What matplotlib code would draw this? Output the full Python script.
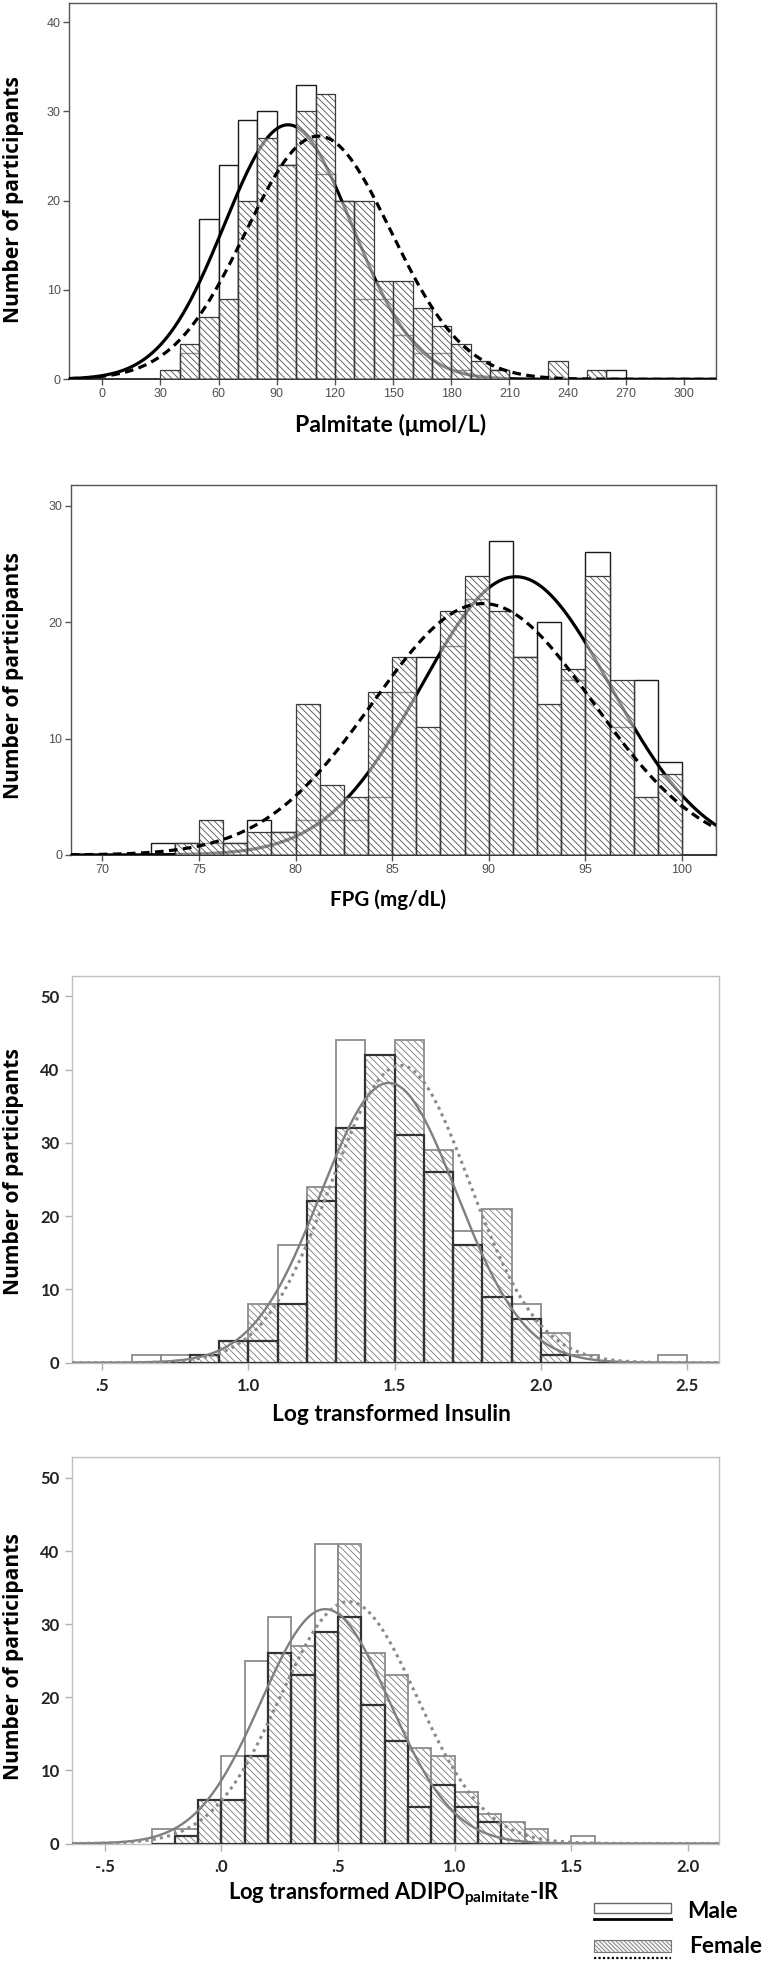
import matplotlib
matplotlib.use('Agg')
import matplotlib.pyplot as plt
import numpy as np
from matplotlib import rc
from matplotlib.patches import Rectangle
from matplotlib.lines import Line2D

rc('mathtext', default='regular')
plt.rcParams['hatch.linewidth'] = 0.6

W, H = 764, 1962

# Palmitate (umol/L), bins of 10 starting at 30
palm_start, palm_bw = 30, 10
palm_male = [0, 3, 18, 24, 29, 30, 24, 33, 23, 20, 9, 9, 5, 3, 3, 1, 0, 1, 0, 0, 0, 0, 0, 1]
palm_female = [1, 4, 7, 9, 20, 27, 24, 30, 32, 20, 20, 11, 11, 8, 6, 4, 2, 1, 0, 0, 2, 0, 1, 0]
palm_fit_male = [95.8, 32.9, 235]      # mean, sd, n
palm_fit_female = [111.5, 37.5, 256]
palm_ticks = [0, 30, 60, 90, 120, 150, 180, 210, 240, 270, 300]

# FPG (mg/dL), bins of 1.25 starting at 72.5
fpg_start, fpg_bw = 72.5, 1.25
fpg_male = [1, 1, 1, 1, 3, 2, 3, 3, 3, 5, 14, 17, 18, 22, 27, 17, 20, 15, 26, 11, 15, 8]
fpg_female = [0, 1, 3, 1, 2, 2, 13, 6, 5, 14, 17, 11, 21, 24, 21, 17, 13, 16, 24, 15, 5, 7]
fpg_fit_male = [91.4, 4.9, 235]
fpg_fit_female = [89.7, 5.7, 247]
fpg_ticks = [70, 75, 80, 85, 90, 95, 100]

# log insulin, bins of 0.1 starting at 0.6
ins_start, ins_bw = 0.6, 0.1
ins_male = [1, 1, 1, 3, 3, 16, 22, 44, 42, 31, 26, 18, 9, 8, 1, 1, 0, 0, 1]
ins_female = [0, 0, 1, 3, 8, 8, 24, 32, 42, 44, 29, 16, 21, 6, 4, 0, 0, 0, 0]
ins_fit_male = [1.48, 0.232, 222]
ins_fit_female = [1.52, 0.236, 240]
ins_ticks = [0.5, 1.0, 1.5, 2.0, 2.5]
ins_ticklabels = ['.5', '1.0', '1.5', '2.0', '2.5']

# log ADIPO-IR, bins of 0.1 starting at -0.3
adi_start, adi_bw = -0.3, 0.1
adi_male = [2, 2, 6, 12, 25, 31, 23, 41, 31, 19, 14, 5, 8, 5, 3, 0, 0, 0, 1]
adi_female = [0, 1, 6, 6, 12, 26, 27, 29, 41, 26, 23, 13, 12, 7, 4, 3, 2, 0, 0]
adi_fit_male = [0.445, 0.275, 221]
adi_fit_female = [0.545, 0.293, 243]
adi_ticks = [-0.5, 0.0, 0.5, 1.0, 1.5, 2.0]
adi_ticklabels = ['-.5', '.0', '.5', '1.0', '1.5', '2.0']


def fx(x):
    return x / W


def fy(y):
    return 1 - y / H


def make_ax(fig, l, t, r, b):
    return fig.add_axes([fx(l), fy(b), (r - l) / W, (b - t) / H])


def fit_text(t, target):
    # scale font so the rendered text is `target` pixels long
    r = fig.canvas.get_renderer()
    bb = t.get_window_extent(r)
    t.set_fontsize(t.get_fontsize() * target / max(bb.width, bb.height))


def normal_curve(ax, fit, bw, **kw):
    mean, sd, n = fit
    x = np.linspace(*ax.get_xlim(), 600)
    y = n * bw / (sd * np.sqrt(2 * np.pi)) * np.exp(-0.5 * ((x - mean) / sd) ** 2)
    ax.plot(x, y, **kw)


def old_panel(ax, start, bw, male, female, fit_m, fit_f):
    left = start + bw * np.arange(len(male))
    ax.bar(left, male, bw, align='edge', facecolor='white', edgecolor='#1a1a1a',
           linewidth=1.0, zorder=2)
    normal_curve(ax, fit_m, bw, color='black', lw=2.3, zorder=3)
    ax.bar(left, female, bw, align='edge', facecolor=(1, 1, 1, 0.55),
           edgecolor='#505050', hatch='\\' * 5, linewidth=0, zorder=4)
    ax.bar(left, female, bw, align='edge', fill=False, edgecolor='#3a3a3a',
           linewidth=0.9, zorder=5)
    normal_curve(ax, fit_f, bw, color='black', lw=2.3, dashes=(2.7, 1.7), zorder=6)
    for s in ax.spines.values():
        s.set_color('#555555')
        s.set_linewidth(1.0)
    ax.spines['bottom'].set_color('#333333')
    ax.spines['bottom'].set_linewidth(1.4)
    ax.tick_params(direction='out', length=4, width=1, color='#555555', pad=2.2)


def new_panel(ax, start, bw, male, female, fit_m, fit_f):
    left = start + bw * np.arange(len(male))
    ax.bar(left, male, bw, align='edge', facecolor='white', edgecolor='#8c8c8c',
           linewidth=1.3, zorder=2)
    ax.bar(left, female, bw, align='edge', facecolor=(1, 1, 1, 0.35),
           edgecolor='#7a7a7a', hatch='\\' * 5, linewidth=0, zorder=3)
    ax.bar(left, female, bw, align='edge', fill=False, edgecolor='#8c8c8c',
           linewidth=1.3, zorder=3.5)
    ax.bar(left, np.minimum(male, female), bw, align='edge', fill=False,
           edgecolor='#333333', linewidth=1.6, zorder=4)
    normal_curve(ax, fit_m, bw, color='#7f7f7f', lw=1.7, zorder=5)
    normal_curve(ax, fit_f, bw, color='#8a8a8a', lw=2.2, ls=(0, (1, 1.4)), zorder=6)
    for s in ax.spines.values():
        s.set_color('#c0c0c0')
        s.set_linewidth(1.0)
    ax.tick_params(direction='out', length=5, width=1, color='#b0b0b0')
    ax.tick_params(axis='x', pad=6)
    ax.tick_params(axis='y', pad=4)


fig = plt.figure(figsize=(W / 100, H / 100), dpi=100)

ylab = dict(fontsize=13, fontweight='bold', family='Open Sans', rotation=90,
            ha='center', va='center')
xlab = dict(fontsize=15, fontweight='bold', family='Lato', ha='center', va='baseline')
old_tick = dict(fontsize=9, family='Liberation Sans', color='#505050')
new_tick = dict(fontsize=12, family='Lato', fontweight='bold', color='#222222')

# panel 1
ax1 = make_ax(fig, 69.3, 3.3, 716, 379.3)
ax1.set_xlim(-17.0, 316.5)
ax1.set_ylim(0, 42.1)
old_panel(ax1, palm_start, palm_bw, palm_male, palm_female, palm_fit_male, palm_fit_female)
ax1.set_xticks(palm_ticks, [str(t) for t in palm_ticks], **old_tick)
ax1.set_yticks([0, 10, 20, 30, 40], ['0', '10', '20', '30', '40'], **old_tick)
t = fig.text(fx(13.5), fy(199.5), 'Number of participants', **ylab)
fit_text(t, 245)
t = fig.text(fx(390.5), fy(432), 'Palmitate (μmol/L)', **xlab)
fit_text(t, 191)

# panel 2
ax2 = make_ax(fig, 70.7, 485, 716, 855)
ax2.set_xlim(68.36, 101.76)
ax2.set_ylim(0, 31.8)
old_panel(ax2, fpg_start, fpg_bw, fpg_male, fpg_female, fpg_fit_male, fpg_fit_female)
ax2.set_xticks(fpg_ticks, [str(t) for t in fpg_ticks], **old_tick)
ax2.set_yticks([0, 10, 20, 30], ['0', '10', '20', '30'], **old_tick)
t = fig.text(fx(13.5), fy(676), 'Number of participants', **ylab)
fit_text(t, 245)
t = fig.text(fx(388), fy(906), 'FPG (mg/dL)', **xlab)
fit_text(t, 116)

# panel 3
ax3 = make_ax(fig, 72.2, 975.7, 718.5, 1362.7)
ax3.set_xlim(0.397, 2.608)
ax3.set_ylim(0, 52.8)
new_panel(ax3, ins_start, ins_bw, ins_male, ins_female, ins_fit_male, ins_fit_female)
ax3.set_xticks(ins_ticks, ins_ticklabels, **new_tick)
ax3.set_yticks(range(0, 51, 10), [str(t) for t in range(0, 51, 10)], **new_tick)
t = fig.text(fx(13.5), fy(1172), 'Number of participants', **ylab)
fit_text(t, 245)
t = fig.text(fx(391), fy(1421), 'Log transformed Insulin', **xlab)
fit_text(t, 240)

# panel 4
ax4 = make_ax(fig, 72.2, 1456.8, 718.5, 1843.5)
ax4.set_xlim(-0.640, 2.131)
ax4.set_ylim(0, 52.9)
new_panel(ax4, adi_start, adi_bw, adi_male, adi_female, adi_fit_male, adi_fit_female)
ax4.set_xticks(adi_ticks, adi_ticklabels, **new_tick)
ax4.set_yticks(range(0, 51, 10), [str(t) for t in range(0, 51, 10)], **new_tick)
t = fig.text(fx(13.5), fy(1657), 'Number of participants', **ylab)
fit_text(t, 245)
t = fig.text(fx(393.5), fy(1899), r'Log transformed ADIPO$_{palmitate}$-IR', **xlab)
fit_text(t, 333)

# legend
fig.add_artist(Rectangle((fx(594), fy(1913.3)), (671 - 594) / W, 10.6 / H,
                         facecolor='white', edgecolor='#666666', lw=1.0,
                         transform=fig.transFigure))
fig.add_artist(Line2D([fx(594), fx(671)], [fy(1919.3), fy(1919.3)], color='black',
                      lw=2.0, transform=fig.transFigure))
fig.add_artist(Rectangle((fx(594), fy(1951.7)), (671 - 594) / W, 11.7 / H,
                         facecolor='#f4f4f4', edgecolor='#777777', lw=0.8,
                         hatch='\\' * 8, transform=fig.transFigure))
fig.add_artist(Line2D([fx(594), fx(671)], [fy(1958), fy(1958)], color='black',
                      lw=1.6, ls=(0, (1, 1)), transform=fig.transFigure))
t = fig.text(fx(686.7), fy(1911.5), 'Male', fontsize=16, fontweight='bold',
             family='Lato', va='center', ha='left')
fit_text(t, 50.7)
fig.text(fx(689), fy(1946.5), 'Female', fontsize=t.get_fontsize(), fontweight='bold',
         family='Lato', va='center', ha='left')

fig.savefig('out.png', dpi=100)
